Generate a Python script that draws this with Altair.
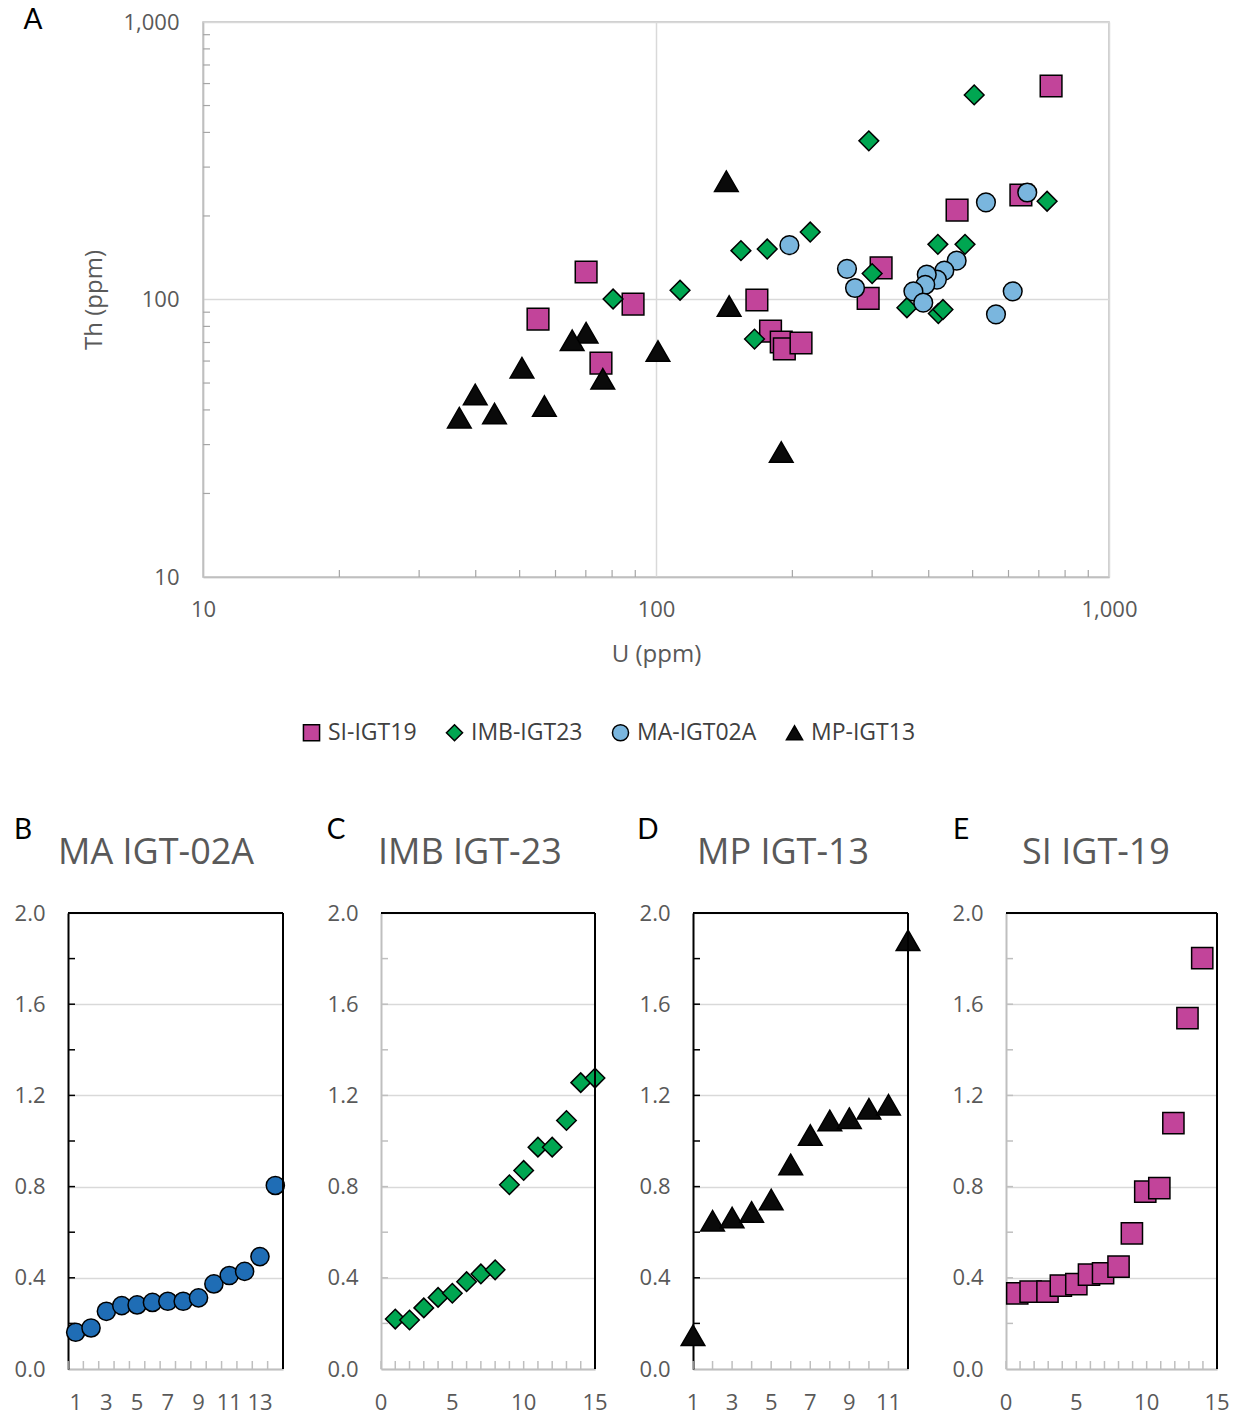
import altair as alt
import pandas as pd

FONT = "Open Sans"
TXT = "#595959"

# ---------------- Panel A data (U vs Th, ppm) ----------------
series_names = ["SI-IGT19", "IMB-IGT23", "MA-IGT02A", "MP-IGT13"]
series_fill = ["#C2449A", "#00A651", "#7AB6DE", "#0A0A0A"]
series_shape = ["square", "diamond", "circle", "triangle-up"]
series_size = [470, 390, 350, 560]

si_u = [54.9, 70.1, 89.0, 75.6, 167, 179, 189, 192, 209, 294, 314, 462, 639, 745]
si_th = [85.0, 125.6, 96.3, 59.0, 99.6, 76.9, 70.3, 66.4, 69.7, 101, 130, 210, 238, 588]

imb_u = [80.4, 113, 154, 176, 219, 165, 295, 300, 504, 419, 481, 730, 358, 420, 430]
imb_th = [100.4, 108, 150, 152, 175, 72.0, 373, 124, 546, 158, 158, 226, 93.4, 89, 92]

ma_u = [197, 264, 275, 535, 660, 613, 563, 461, 433, 417, 396, 393, 370, 389]
ma_th = [157, 129, 110, 224, 243, 107, 88.4, 138, 127, 118, 123, 113, 107, 97.4]

mp_u = [143, 145, 101, 70.1, 65.3, 76.3, 50.6, 39.9, 36.8, 44.0, 56.7, 189]
mp_th = [267, 94.7, 65.2, 75.9, 71.3, 51.8, 56.8, 45.5, 37.5, 38.8, 41.3, 28.2]

log_major = [10, 100, 1000]
log_minor = [20, 30, 40, 50, 60, 70, 80, 90, 200, 300, 400, 500, 600, 700, 800, 900]

# ---------------- Panels B-E data ----------------
b_x = [1, 2, 3, 4, 5, 6, 7, 8, 9, 10, 11, 12, 13, 14]
b_y = [0.161, 0.180, 0.253, 0.278, 0.281, 0.292, 0.297, 0.297, 0.312, 0.373, 0.410, 0.428, 0.493, 0.805]

c_x = [1, 2, 3, 4, 5, 6, 7, 8, 9, 10, 11, 12, 13, 14, 15]
c_y = [0.219, 0.215, 0.268, 0.314, 0.332, 0.383, 0.417, 0.435, 0.808, 0.871, 0.973, 0.973, 1.090, 1.256, 1.276]

d_x = [1, 2, 3, 4, 5, 6, 7, 8, 9, 10, 11, 12]
d_y = [0.148, 0.650, 0.664, 0.689, 0.743, 0.897, 1.026, 1.090, 1.100, 1.141, 1.159, 1.880]

e_x = [0.8, 1.75, 2.95, 3.9, 5.0, 5.9, 6.9, 8.0, 8.95, 9.9, 10.9, 11.9, 12.9, 13.95]
e_y = [0.332, 0.339, 0.339, 0.366, 0.372, 0.414, 0.420, 0.449, 0.595, 0.778, 0.793, 1.078, 1.539, 1.802]

b_xlabels = [1, 3, 5, 7, 9, 11, 13]
c_xlabels = [0, 5, 10, 15]
d_xlabels = [1, 3, 5, 7, 9, 11]
e_xlabels = [0, 5, 10, 15]

y_labels = [0.0, 0.4, 0.8, 1.2, 1.6, 2.0]
y_minor = [0.2, 0.4, 0.6, 0.8, 1.0, 1.2, 1.4, 1.6, 1.8]

one = pd.DataFrame({"k": [0]})

# ---------------- Panel A ----------------
TW, TH = 906, 555
xs_log = alt.Scale(type="log", domain=[10, 1000], nice=False)
ys_log = alt.Scale(type="log", domain=[10, 1000], nice=False)

x_axis_a = alt.Axis(
    values=log_major, format=",", title="U (ppm)", grid=True, gridColor="#D9D9D9",
    gridWidth=1.5, ticks=False, domainColor="#BFBFBF", domainWidth=1.5, labelFlush=False,
    labelFont=FONT, labelFontSize=22, labelColor=TXT, labelPadding=22,
    titleFont=FONT, titleFontSize=24, titleColor=TXT, titleFontWeight="normal", titlePadding=22)
y_axis_a = alt.Axis(
    values=log_major, format=",", title="Th (ppm)", grid=True, gridColor="#D9D9D9",
    gridWidth=1.5, ticks=False, domainColor="#BFBFBF", domainWidth=1.5, labelFlush=False,
    labelFont=FONT, labelFontSize=22, labelColor=TXT, labelPadding=24,
    titleFont=FONT, titleFontSize=24, titleColor=TXT, titleFontWeight="normal", titlePadding=16)
legend_a = alt.Legend(orient="none", legendX=232, legendY=699, direction="horizontal",
                      title=None, labelFont=FONT, labelFontSize=23, labelColor="#404040",
                      symbolSize=260, symbolStrokeWidth=1.5,
                      columnPadding=26, labelOffset=5, padding=0)

series_data = [(si_u, si_th), (imb_u, imb_th), (ma_u, ma_th), (mp_u, mp_th)]
point_layers = []
for i, name in enumerate(series_names):
    us, ths = series_data[i]
    df = pd.DataFrame({"series": [name] * len(us), "U": us, "Th": ths})
    point_layers.append(
        alt.Chart(df).mark_point(size=series_size[i], strokeWidth=1.5,
                                 opacity=1, fillOpacity=1, strokeOpacity=1).encode(
            x=alt.X("U:Q", scale=xs_log, axis=x_axis_a),
            y=alt.Y("Th:Q", scale=ys_log, axis=y_axis_a),
            fill=alt.Fill("series:N", scale=alt.Scale(domain=series_names, range=series_fill),
                          legend=legend_a),
            stroke=alt.Stroke("series:N", scale=alt.Scale(domain=series_names,
                                                          range=["black", "black", "black", "black"]),
                              legend=legend_a),
            shape=alt.Shape("series:N", scale=alt.Scale(domain=series_names, range=series_shape),
                            legend=legend_a),
        )
    )

y_minor_ticks = alt.Chart(pd.DataFrame({"Th": log_minor})).mark_rule(
    color="#A6A6A6", strokeWidth=1.2).encode(
    y=alt.Y("Th:Q", scale=ys_log, axis=y_axis_a), x=alt.value(0), x2=alt.value(7))
x_minor_ticks = alt.Chart(pd.DataFrame({"U": log_minor})).mark_rule(
    color="#A6A6A6", strokeWidth=1.2).encode(
    x=alt.X("U:Q", scale=xs_log, axis=x_axis_a), y=alt.value(TH - 7), y2=alt.value(TH))

letter_a = alt.Chart(one).mark_text(text="A", font="Lato", fontSize=28, color="black",
                                    align="center", baseline="middle").encode(
    x=alt.value(-170), y=alt.value(-1))

top = alt.layer(*point_layers, y_minor_ticks, x_minor_ticks, letter_a).properties(
    width=TW, height=TH, view=alt.ViewBackground(stroke="#BFBFBF", strokeWidth=1.5))

dummy = alt.Chart(one).mark_text(text="").encode(x=alt.value(0), y=alt.value(0)).properties(
    width=135, height=TH)

top_row = alt.hconcat(dummy, top, spacing=0, bounds="flush")


# ---------------- Panels B-E ----------------
def panel(xv, yv, xdom, xlab, xtick, shape, fill, size, title, letter, left_col, width, tdx):
    H = 456
    df = pd.DataFrame({"x": xv, "y": yv})
    xs = alt.Scale(domain=xdom, nice=False, zero=False)
    ys = alt.Scale(domain=[0, 2], nice=False)
    xax = alt.Axis(values=xlab, title=None, grid=False, ticks=False, labels=False,
                   domainColor="#BFBFBF", domainWidth=2)
    yax = alt.Axis(values=y_labels, format=".1f", title=None, grid=True, gridColor="#D9D9D9",
                   gridWidth=1.5, ticks=False, domainColor=left_col, domainWidth=2,
                   labelFont=FONT, labelFontSize=22, labelColor=TXT, labelPadding=23,
                   labelFlush=False, labelOverlap=False)
    pts = alt.Chart(df).mark_point(shape=shape, filled=True, fill=fill, stroke="black",
                                   strokeWidth=1.5, size=size, opacity=1).encode(
        x=alt.X("x:Q", scale=xs, axis=xax),
        y=alt.Y("y:Q", scale=ys, axis=yax),
    )
    ytk = alt.Chart(pd.DataFrame({"y": y_minor})).mark_rule(color=left_col, strokeWidth=1.5).encode(
        y=alt.Y("y:Q", scale=ys, axis=yax), x=alt.value(0), x2=alt.value(7))
    xtk = alt.Chart(pd.DataFrame({"x": xtick})).mark_rule(color="#BFBFBF", strokeWidth=1.5).encode(
        x=alt.X("x:Q", scale=xs, axis=xax), y=alt.value(H - 8), y2=alt.value(H))
    xlbl = alt.Chart(pd.DataFrame({"x": xlab})).mark_text(
        font=FONT, fontSize=22, color=TXT, align="center", baseline="middle").encode(
        x=alt.X("x:Q", scale=xs, axis=xax), y=alt.value(H + 34),
        text=alt.Text("x:Q", format="d"))
    top_line = alt.Chart(one).mark_rule(color="black", strokeWidth=2).encode(
        x=alt.datum(xdom[0]), x2=alt.datum(xdom[1]), y=alt.datum(2.0))
    right_line = alt.Chart(one).mark_rule(color="black", strokeWidth=2).encode(
        x=alt.datum(xdom[1]), y=alt.datum(0.0), y2=alt.datum(2.0))
    ttl = alt.Chart(one).mark_text(text=title, font=FONT, fontSize=36, color=TXT,
                                   align="left", baseline="middle").encode(
        x=alt.value(tdx), y=alt.value(-60))
    let = alt.Chart(one).mark_text(text=letter, font="Lato", fontSize=28, color="black",
                                   align="center", baseline="middle").encode(
        x=alt.value(-45), y=alt.value(-82))
    return alt.layer(pts, ytk, xtk, xlbl, top_line, right_line, ttl, let).properties(
        width=width, height=H)


pB = panel(b_x, b_y, [0.5, 14.5], b_xlabels,
           [0.5, 1.5, 2.5, 3.5, 4.5, 5.5, 6.5, 7.5, 8.5, 9.5, 10.5, 11.5, 12.5, 13.5, 14.5],
           "circle", "#1F6DB5", 330, "MA IGT-02A", "B", "black", 215, -10)
pC = panel(c_x, c_y, [0, 15], c_xlabels, list(range(0, 16)),
           "diamond", "#00A651", 380, "IMB IGT-23", "C", "#BFBFBF", 214, -3)
pD = panel(d_x, d_y, [1, 12], d_xlabels, list(range(1, 13)),
           "triangle-up", "#0A0A0A", 560, "MP IGT-13", "D", "black", 215, 4)
pE = panel(e_x, e_y, [0, 15], e_xlabels, list(range(0, 16)),
           "square", "#C2449A", 450, "SI IGT-19", "E", "#BFBFBF", 211, 16)

bottom = alt.hconcat(pB, pC, pD, pE, spacing=98, bounds="flush")

chart = alt.vconcat(top_row, bottom, spacing=149).properties(
    padding={"left": 13, "top": 6, "right": 5, "bottom": 5}
).configure_view(stroke="transparent")

chart.save("out.html", embed_options={"renderer": "svg", "actions": False})
